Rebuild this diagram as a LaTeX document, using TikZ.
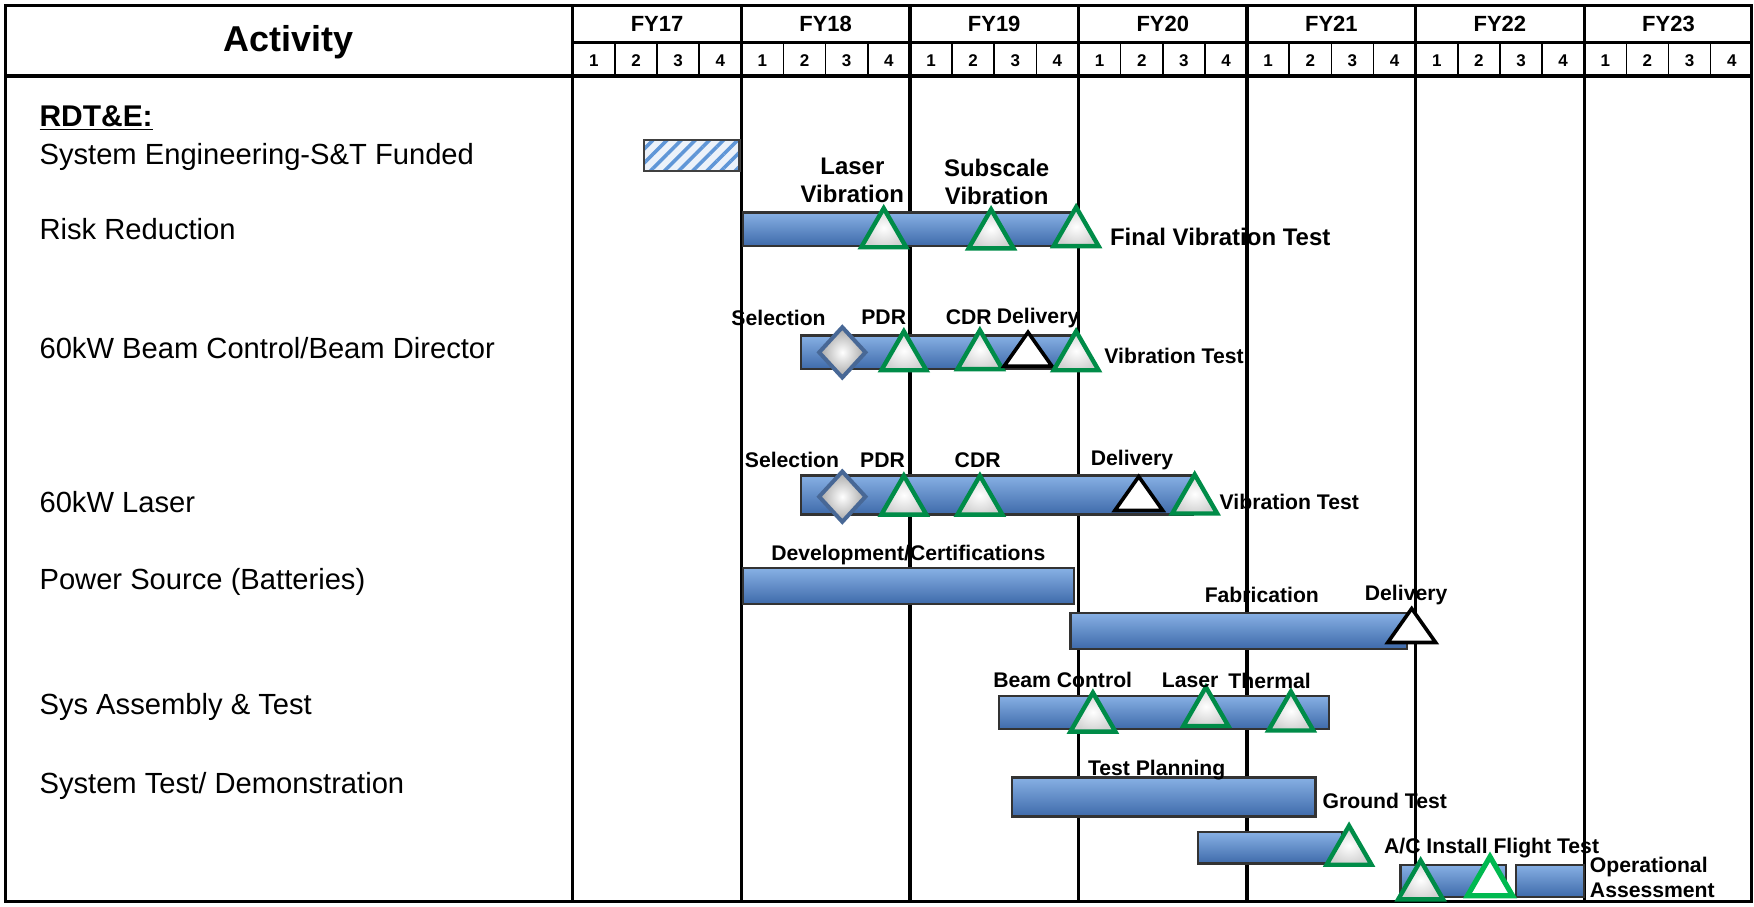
\documentclass[tikz,border=0pt]{standalone}
\usepackage{fontspec}
\setmainfont{Liberation Sans}
\usetikzlibrary{shapes.geometric,patterns.meta}
\definecolor{barhi}{RGB}{135,176,228}
\definecolor{barlo}{RGB}{62,106,170}
\definecolor{msgreen}{RGB}{0,140,72}
\definecolor{msbright}{RGB}{0,185,80}
\definecolor{selblue}{RGB}{72,104,150}
\definecolor{hatchblue}{RGB}{95,150,215}
\tikzset{
  frame/.style={line width=1.7pt},
  qtick/.style={line width=0.8pt},
  bar/.style={draw=black!80, line width=1.1pt, top color=barhi, bottom color=barlo},
  hatchbar/.style={draw=black!75, line width=1.1pt, preaction={fill=hatchblue!12},
    pattern={Lines[angle=45,distance=5pt,line width=1.8pt]}, pattern color=hatchblue},
  tri/.style={regular polygon, regular polygon sides=3, minimum size=26pt, inner sep=0pt, anchor=side 2},
  ms/.style={tri, draw=msgreen, line width=2.2pt, inner color=white, outer color=black!18},
  msopen/.style={tri, draw=msbright, line width=2.6pt, fill=white},
  dlv/.style={isosceles triangle, shape border rotate=90, isosceles triangle stretches,
    minimum width=24pt, minimum height=17pt, inner sep=0pt, anchor=lower side,
    draw=black, line width=1.8pt, fill=white},
  sel/.style={diamond, minimum width=24pt, minimum height=26pt, inner sep=0pt, draw=selblue, line width=2pt,
    inner color=white, outer color=black!35},
  tag/.style={font=\bfseries\fontsize{10.6}{12.5}\selectfont, inner sep=0pt, align=center},
  bigtag/.style={tag, font=\bfseries\fontsize{12}{14}\selectfont},
  act/.style={font=\fontsize{14.6}{16}\selectfont, anchor=west, inner sep=0pt},
  hdr/.style={font=\bfseries\fontsize{11}{12}\selectfont, inner sep=0pt},
  qnum/.style={font=\bfseries\fontsize{8.5}{9}\selectfont, inner sep=0pt}
}

\begin{document}
\begin{tikzpicture}[x=0.56pt, y=-0.56pt]
\useasboundingbox (0,0) rectangle (1568,810);
% header and grid
\draw[frame] (5,5) rectangle (1566,806);
\draw[frame] (5,68) -- (1566,68);
\draw[frame] (512,38) -- (1566,38);
\node[font=\bfseries\fontsize{18}{20}\selectfont, inner sep=0pt] (act) at (258,38) {Activity};
\foreach \k/\fy in {0/17,1/18,2/19,3/20,4/21,5/22,6/23} {
  \pgfmathsetmacro\xa{512+150.7*\k}
  \draw[frame] (\xa,5) -- (\xa,806);
  \node[hdr] (fy\fy) at (\xa+75.35,21) {FY\fy};
  \foreach \q in {1,2,3,4}
    \node[qnum] (q\fy-\q) at (\xa+37.675*\q-18.8,54) {\q};
  \foreach \q in {1,2,3}
    \draw[qtick] (\xa+37.675*\q,38) -- (\xa+37.675*\q,68);
}

% activities
\node[act, font=\bfseries\fontsize{15}{16}\selectfont] (rdte) at (35,106) {\underline{RDT\&E:}};
\node[act] (a1) at (35,140) {System Engineering-S\&T Funded};
\node[act] (a2) at (35,205) {Risk Reduction};
\node[act] (a3) at (35,311) {60kW Beam Control/Beam Director};
\node[act] (a4) at (35,449) {60kW Laser};
\node[act] (a5) at (35,520) {Power Source (Batteries)};
\node[act] (a6) at (35,632) {Sys Assembly \& Test};
\node[act] (a7) at (35,703) {System Test/ Demonstration};

% bars
\draw[hatchbar] (576,125) rectangle (661,153);
\draw[bar] (664,190) rectangle (962,220);
\draw[bar] (716,300) rectangle (962,330);
\draw[bar] (716,425) rectangle (1066,460);
\draw[bar] (664,508) rectangle (960,540);
\draw[bar] (957,548) rectangle (1258,580);
\draw[bar] (893,622) rectangle (1188,652);
\draw[bar] (905,695) rectangle (1176,730);
\draw[bar] (1071,744) rectangle (1200,772);
\draw[bar] (1252,773) rectangle (1346,802);
\draw[bar] (1355,773) rectangle (1416,802);

% milestones
\node[ms] (rr1) at (790,223) {};
\node[ms] (rr2) at (886,224) {};
\node[ms] (rr3) at (962,222) {};
\node[sel] (bc0) at (753,315) {};
\node[ms] (bc1) at (808,333) {};
\node[ms] (bc2) at (876,332) {};
\node[dlv] (bc3) at (919,329) {};
\node[ms] (bc4) at (962,333) {};
\node[sel] (la0) at (753,444) {};
\node[ms] (la1) at (808,462) {};
\node[ms] (la2) at (876,462) {};
\node[dlv] (la3) at (1018,458) {};
\node[ms] (la4) at (1068,461) {};
\node[dlv] (ps1) at (1262,576) {};
\node[ms] (sa1) at (977,656) {};
\node[ms] (sa2) at (1078,651) {};
\node[ms] (sa3) at (1154,655) {};
\node[ms] (ac1) at (1206,775) {};
\node[ms] (ft1) at (1270,806) {};
\node[msopen] (ft2) at (1332,803) {};

% labels
\node[bigtag] (t1) at (762,161) {Laser\\Vibration};
\node[bigtag] (t2) at (891,163) {Subscale\\Vibration};
\node[bigtag, anchor=west] (t3) at (992,212) {Final Vibration Test};
\node[tag] (t4) at (696,284) {Selection};
\node[tag] (t5) at (790,284) {PDR};
\node[tag] (t6) at (866,284) {CDR};
\node[tag] (t7) at (928,284) {Delivery};
\node[tag, anchor=west] (t8) at (987,318) {Vibration Test};
\node[tag] (t9) at (708,411) {Selection};
\node[tag] (t10) at (789,411) {PDR};
\node[tag] (t11) at (874,411) {CDR};
\node[tag] (t12) at (1012,411) {Delivery};
\node[tag, anchor=west] (t13) at (1090,449) {Vibration Test};
\node[tag] (t14) at (812,496) {Development/Certifications};
\node[tag] (t15) at (1128,532) {Fabrication};
\node[tag] (t16) at (1257,532) {Delivery};
\node[tag] (t17) at (950,608) {Beam Control};
\node[tag] (t18) at (1064,608) {Laser};
\node[tag] (t19) at (1135,609) {Thermal};
\node[tag] (t20) at (1034,688) {Test Planning};
\node[tag, anchor=west] (t21) at (1182,716) {Ground Test};
\node[tag, anchor=west] (t22) at (1237,758) {A/C Install Flight Test};
\node[tag, anchor=west, align=left] (t23) at (1421,784) {Operational\\Assessment};
\end{tikzpicture}
\end{document}
